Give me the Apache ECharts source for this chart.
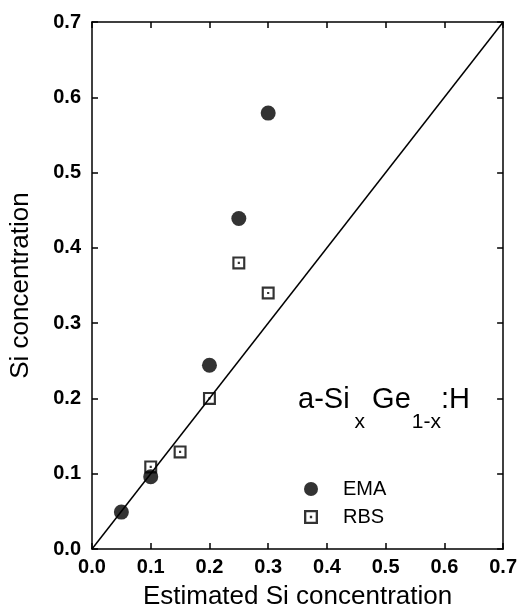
<!DOCTYPE html>
<html>
<head>
<meta charset="utf-8">
<script src="https://cdn.jsdelivr.net/npm/echarts@6/dist/echarts.min.js"></script>
<style>
  html, body { margin: 0; padding: 0; background: #fff; }
  #chart { width: 520px; height: 615px; }
</style>
</head>
<body>
<div id="chart"></div>
<script>
// Measured Si concentration vs. estimated Si concentration
const emaX = [0.05, 0.10, 0.20, 0.25, 0.30];
const emaY = [0.049, 0.096, 0.244, 0.439, 0.579];
const rbsX = [0.10, 0.15, 0.20, 0.25, 0.30];
const rbsY = [0.109, 0.129, 0.200, 0.380, 0.340];
// y = x reference line end points
const refX = [0.0, 0.7];
const refY = [0.0, 0.7];
const tickLabels = ['0.0', '0.1', '0.2', '0.3', '0.4', '0.5', '0.6', '0.7'];

const FONT = 'Liberation Sans, Arial, Helvetica, sans-serif';
// open square with a centre dot
const RBS_SYMBOL = 'path://M0,0H12V12H0Z M2,2V10H10V2Z M5,5H7V7H5Z';

const pairs = (xs, ys) => xs.map((x, i) => [x, ys[i]]);

const axisCommon = {
  type: 'value', min: 0, max: 0.7, interval: 0.1,
  axisLine: { show: true, onZero: false, lineStyle: { color: '#000', width: 1.5 } },
  axisTick: { show: true, inside: true, length: 6, lineStyle: { color: '#000', width: 1.5 } },
  splitLine: { show: false }
};
const labelStyle = {
  color: '#000', fontFamily: FONT, fontSize: 20, fontWeight: 'bold',
  formatter: v => tickLabels[Math.round(v * 10)],
  showMinLabel: true, showMaxLabel: true
};

const chart = echarts.init(document.getElementById('chart'), null, { renderer: 'canvas' });
chart.setOption({
  backgroundColor: '#fff',
  animation: false,
  grid: { left: 90, right: 14, top: 22, bottom: 56 },
  xAxis: [
    Object.assign({}, axisCommon, {
      position: 'bottom',
      axisLabel: Object.assign({}, labelStyle, { margin: 8 }),
      name: 'Estimated Si concentration', nameLocation: 'middle', nameGap: 35,
      nameTextStyle: { color: '#000', fontFamily: FONT, fontSize: 26 }
    }),
    Object.assign({}, axisCommon, { position: 'top', axisLabel: { show: false } })
  ],
  yAxis: [
    Object.assign({}, axisCommon, {
      position: 'left',
      axisLabel: Object.assign({}, labelStyle, { margin: 11 }),
      name: 'Si concentration', nameLocation: 'middle', nameGap: 58,
      nameTextStyle: { color: '#000', fontFamily: FONT, fontSize: 26 }
    }),
    Object.assign({}, axisCommon, { position: 'right', axisLabel: { show: false } })
  ],
  legend: {
    orient: 'vertical', left: 299, top: 474,
    itemWidth: 14, itemHeight: 14, itemGap: 8,
    data: ['EMA', 'RBS'],
    textStyle: { color: '#000', fontFamily: FONT, fontSize: 20, lineHeight: 14, padding: [0, 0, 0, 20] }
  },
  graphic: [{
    type: 'text', left: 298, top: 385,
    style: {
      text: '{m|a-Si}{s1|x}{m|Ge}{s2|1-x}{m|:H}',
      fill: '#000',
      rich: {
        m: { fontFamily: FONT, fontSize: 29, lineHeight: 30, verticalAlign: 'top', fill: '#000' },
        s1: { fontFamily: FONT, fontSize: 21, lineHeight: 21, verticalAlign: 'top', padding: [27, 7, 0, 5], fill: '#000' },
        s2: { fontFamily: FONT, fontSize: 21, lineHeight: 21, verticalAlign: 'top', padding: [27, 0, 0, 1], fill: '#000' }
      }
    }
  }],
  series: [
    {
      name: 'y=x', type: 'line', data: pairs(refX, refY),
      showSymbol: false, symbol: 'none', silent: true,
      lineStyle: { color: '#000', width: 1.5 }
    },
    {
      name: 'EMA', type: 'scatter', data: pairs(emaX, emaY),
      symbol: 'circle', symbolSize: 15,
      itemStyle: { color: '#000' }
    },
    {
      name: 'RBS', type: 'scatter', data: pairs(rbsX, rbsY),
      symbol: RBS_SYMBOL, symbolSize: 13,
      itemStyle: { color: '#000' }
    }
  ]
});
</script>
</body>
</html>
